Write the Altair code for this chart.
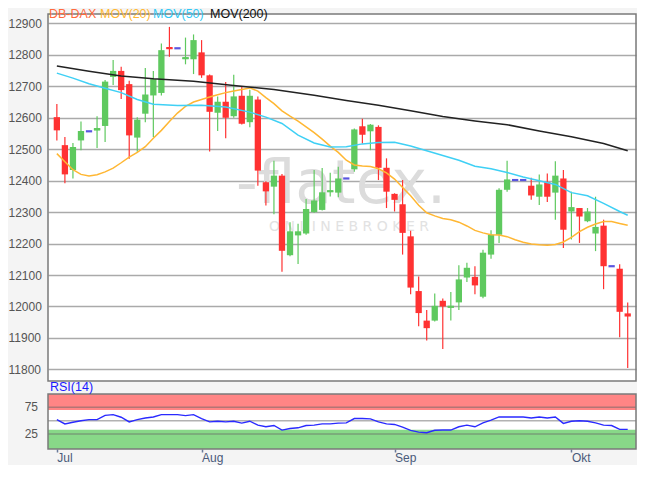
import altair as alt
import pandas as pd

# ---------------- data ----------------
idx = list(range(72))
opens = [12602, 12513, 12434, 12528, 12557, 12560, 12574, 12730, 12749, 12707,
         12537, 12613, 12671, 12679, 12823, 12821, 12787, 12786, 12808, 12735,
         12616, 12651, 12605, 12670, 12586, 12658, 12395, 12381, 12416, 12163,
         12226, 12232, 12300, 12307, 12365, 12362, 12407, 12436, 12573, 12557,
         12571, 12441, 12358, 12325, 12223, 12049, 11955, 11955, 12018, 11997,
         12013, 12092, 12094, 12031, 12165, 12228, 12371, 12402, 12402, 12384,
         12349, 12395, 12362, 12407, 12302, 12313, 12271, 12232, 12257, 12128,
         12120, 11978]
highs = [12644, 12539, 12520, 12588, 12557, 12605, 12720, 12784, 12762, 12718,
         12602, 12758, 12749, 12836, 12889, 12821, 12855, 12865, 12847, 12738,
         12668, 12714, 12737, 12700, 12689, 12668, 12398, 12463, 12421, 12268,
         12263, 12342, 12434, 12440, 12425, 12444, 12407, 12566, 12597, 12580,
         12576, 12471, 12360, 12402, 12241, 12095, 11989, 12041, 12025, 12046,
         12131, 12139, 12128, 12180, 12242, 12376, 12463, 12402, 12402, 12409,
         12420, 12423, 12462, 12434, 12365, 12313, 12313, 12349, 12276, 12128,
         12134, 12013]
lows = [12528, 12392, 12407, 12497, 12557, 12504, 12523, 12704, 12660, 12470,
        12492, 12586, 12539, 12671, 12794, 12821, 12770, 12739, 12727, 12493,
        12558, 12535, 12600, 12579, 12570, 12384, 12321, 12293, 12110, 12160,
        12135, 12228, 12298, 12305, 12350, 12347, 12407, 12428, 12518, 12497,
        12402, 12313, 12302, 12165, 12039, 11937, 11892, 11952, 11865, 11955,
        11989, 12078, 12039, 12026, 12152, 12202, 12365, 12402, 12402, 12339,
        12323, 12332, 12276, 12186, 12213, 12202, 12268, 12176, 12055, 12128,
        11902, 11804]
closes = [12560, 12420, 12507, 12558, 12557, 12567, 12715, 12749, 12688, 12544,
          12594, 12674, 12723, 12815, 12820, 12821, 12792, 12847, 12735, 12619,
          12651, 12600, 12668, 12581, 12670, 12432, 12366, 12416, 12177, 12239,
          12239, 12310, 12337, 12363, 12368, 12407, 12407, 12563, 12546, 12578,
          12441, 12365, 12339, 12234, 12060, 11979, 11931, 12002, 12000, 12001,
          12086, 12123, 12067, 12171, 12228, 12371, 12404, 12402, 12402, 12353,
          12388, 12349, 12416, 12244, 12316, 12286, 12302, 12253, 12128, 12128,
          11983, 11968]

ma20 = [12486, 12460, 12435, 12420, 12415, 12419, 12428, 12440, 12457, 12475,
        12490, 12508, 12535, 12560, 12588, 12615, 12636, 12650, 12658, 12666,
        12673, 12680, 12685, 12690, 12695, 12685, 12664, 12645, 12622, 12605,
        12589, 12571, 12553, 12532, 12510, 12490, 12465, 12450, 12447, 12445,
        12438, 12425, 12405, 12378, 12352, 12322, 12298, 12288, 12280, 12276,
        12268, 12256, 12242, 12234, 12228, 12227, 12222, 12212, 12204, 12199,
        12196, 12195, 12197, 12205, 12220, 12238, 12252, 12262, 12270, 12270,
        12264, 12258]

ma50_idx = [0, 2, 4, 6, 8, 10, 12, 15, 18, 21, 24, 26, 28, 30, 32, 34, 36, 38,
            40, 42, 44, 46, 48, 50, 52, 54, 56, 58, 60, 62, 64, 66, 68, 70, 71]
ma50 = [12742, 12726, 12708, 12694, 12680, 12658, 12643, 12639, 12640, 12634,
        12618, 12602, 12582, 12545, 12520, 12507, 12508, 12517, 12521, 12522,
        12510, 12495, 12480, 12465, 12446, 12438, 12426, 12412, 12400, 12388,
        12362, 12352, 12328, 12302, 12290]

ma200_idx = [0, 4, 8, 12, 17, 22, 27, 32, 36, 40, 44, 48, 52, 56, 60, 64, 68, 71]
ma200 = [12765, 12748, 12733, 12724, 12716, 12703, 12690, 12672, 12655, 12640,
         12622, 12604, 12590, 12578, 12558, 12540, 12518, 12495]

rsi = [52.2, 44, 47, 50, 52, 52, 60, 61.4, 56.5, 47.8, 52, 55, 57, 61.4, 61.4,
       61.4, 59.6, 61.4, 54, 47.8, 49, 47.8, 49, 45.4, 49, 41.7, 38.6, 41, 32.4,
       35.5, 36.7, 41, 41.7, 44, 44, 45.4, 46, 54, 54, 53.5, 47.8, 44, 43, 38,
       32, 28.7, 27.4, 32, 32.5, 32.5, 38.6, 41.7, 38.6, 46, 51, 57, 57, 57, 57,
       55, 57, 55, 57, 45, 49, 50, 49, 46, 41.7, 41, 33.7, 33.7]

month_labels = ["Jul", "Aug", "Sep", "Okt"]
month_pos = [0, 18, 42, 64]
price_ticks = list(range(11800, 13000, 100))
rsi_grid = [25, 50, 75]
rsi_label_ticks = [25, 75]
rsi_over = [70, 100]
rsi_under = [-3, 33]

legend_texts = ["DB-DAX", "MOV(20)", "MOV(50)", "MOV(200)"]

# ---------------- styling / layout ----------------
GREEN = "#5fc95f"
RED = "#ff3232"
FLAT = "#5a55e0"
C20 = "#ffb733"
C50 = "#3fd0f5"
C200 = "#222222"
FONT = "Liberation Sans"
BG = "#f4f4f4"
BORDER = "#7a7a7a"

PADL, PADR, PADB = 40, 1, 16
W = 588
MT, MB = 6, 373        # main panel top/bottom (view px)
RT, RB = 386, 441      # RSI panel top/bottom (view px)
VH = RB

xs = alt.Scale(domain=[-0.48, 71.41], nice=False, zero=False)
ys = alt.Scale(domain=[11763, 12930], range=[MB, MT], nice=False, zero=False)
rs = alt.Scale(domain=[-3, 100], range=[RB, RT], nice=False, zero=False)

xlabel_expr = " : ".join(
    f"datum.value == {p} ? '{t}'" for p, t in zip(month_pos, month_labels)) + " : ''"
xaxis = alt.Axis(values=month_pos, labelExpr=xlabel_expr, tickSize=3, tickWidth=1.5,
                 tickColor="#6a7a9a", labelAlign="left", labelBaseline="top",
                 labelPadding=0, labelColor="#4a5a7a", labelFontSize=12,
                 labelFont=FONT, domain=False, grid=False, title=None,
                 labelFlush=False, labelOverlap=False)
yaxis = alt.Axis(values=price_ticks, format="d", grid=True, gridColor="#aaaaaa",
                 gridWidth=1.5, ticks=False, tickSize=0, domain=False,
                 labelAlign="left", labelPadding=40, labelColor="#555555",
                 labelFontSize=12, labelFont=FONT, title=None)

X = alt.X("i:Q", scale=xs, axis=xaxis)


def Y(field):
    return alt.Y(field, scale=ys, axis=yaxis)


def label(text, px, py, col, size=12.5, align="left", baseline="alphabetic",
          font=FONT):
    return alt.Chart(pd.DataFrame({"t": [text]})).mark_text(
        align=align, baseline=baseline, fontSize=size, color=col, font=font
    ).encode(x=alt.value(px), y=alt.value(py), text="t:N")


def box(y0, y1, **kw):
    return alt.Chart(pd.DataFrame({"k": [0]})).mark_rect(**kw).encode(
        x=alt.value(0), x2=alt.value(W), y=alt.value(y0), y2=alt.value(y1))


# ---------------- price panel ----------------
df = pd.DataFrame({"i": idx, "o": opens, "h": highs, "l": lows, "c": closes})
df["dir"] = ["flat" if h == l else ("up" if c >= o else "down")
             for o, h, l, c in zip(opens, highs, lows, closes)]
color = alt.Color("dir:N", scale=alt.Scale(domain=["up", "down", "flat"],
                                           range=[GREEN, RED, FLAT]), legend=None)
base = alt.Chart(df)

wicks = base.transform_filter("datum.dir != 'flat'").mark_rule(strokeWidth=1.2).encode(
    x=X, y=Y("l:Q"), y2="h:Q", color=color)
bodies = base.transform_filter("datum.dir != 'flat'").mark_bar(size=6.3).encode(
    x=X, y=Y("o:Q"), y2="c:Q", color=color)
small = (base.transform_filter("abs(datum.o - datum.c) < 8")
         .transform_calculate(xa="datum.i - 0.39", xb="datum.i + 0.39",
                              m="(datum.o + datum.c) / 2")
         .mark_rule(strokeWidth=2.2)
         .encode(x=alt.X("xa:Q", scale=xs, axis=xaxis), x2="xb:Q", y=Y("m:Q"),
                 color=color))


def ma_line(ix, vals, col):
    d = pd.DataFrame({"i": ix, "v": vals})
    return alt.Chart(d).mark_line(color=col, strokeWidth=1.5).encode(x=X, y=Y("v:Q"))


watermark = alt.layer(
    label("-flatex.", 293, 195, "#dcdcdc", size=60, align="center",
          font="DejaVu Sans"),
    label("O N L I N E   B R O K E R", 301, 223, "#e2e2e2", size=14,
          align="center", font="DejaVu Sans"),
)

price_group = alt.layer(
    watermark, wicks, bodies, small,
    ma_line(list(range(72)), ma20, C20),
    ma_line(ma50_idx, ma50, C50),
    ma_line(ma200_idx, ma200, C200),
)

# ---------------- RSI panel ----------------
def RY(field):
    return alt.Y(field, scale=rs, axis=None)


over = alt.Chart(pd.DataFrame({"lo": [rsi_over[0]], "hi": [rsi_over[1]]})).mark_rect(
    color="#ff8585").encode(x=alt.value(0), x2=alt.value(W), y=RY("lo:Q"), y2="hi:Q")
under = alt.Chart(pd.DataFrame({"lo": [rsi_under[0]], "hi": [rsi_under[1]]})).mark_rect(
    color="#88d888").encode(x=alt.value(0), x2=alt.value(W), y=RY("lo:Q"), y2="hi:Q")
rgrid = alt.Chart(pd.DataFrame({"v": rsi_grid})).mark_rule(
    color="#666666", opacity=0.5, strokeWidth=1.5).encode(
    x=alt.value(0), x2=alt.value(W), y=RY("v:Q"))
rlabels = alt.Chart(pd.DataFrame({"v": rsi_label_ticks})).mark_text(
    align="right", baseline="middle", fontSize=12, font=FONT, color="#555555").encode(
    x=alt.value(-10), y=RY("v:Q"), text=alt.Text("v:Q", format="d"))
rsi_line = alt.Chart(pd.DataFrame({"i": idx, "r": rsi})).mark_line(
    color="#2a2aff", strokeWidth=1.4).encode(x=X, y=RY("r:Q"))

rsi_group = alt.layer(over, under, rgrid, rsi_line, rlabels)

# ---------------- frame, header ----------------
strips = alt.layer(box(0, MT, color=BG), box(MB, RT, color=BG))
borders = alt.layer(
    box(MT, MB, fill=None, stroke=BORDER, strokeWidth=1.5),
    box(RT, RB, fill=None, stroke=BORDER, strokeWidth=1.5),
)
header = alt.layer(
    label(legend_texts[0], 1, 10, "#ff6a3d"),
    label(legend_texts[1], 52, 10, C20),
    label(legend_texts[2], 105, 10, "#33c8f5"),
    label(legend_texts[3], 162, 10, "#111111"),
    label("RSI(14)", 2, RT - 3, "#1a1aff"),
)

chart = alt.layer(strips, rsi_group, price_group, borders, header).resolve_scale(
    y="independent"
).properties(
    width=W, height=VH,
    autosize=alt.AutoSizeParams(type="none"),
    padding={"left": PADL, "right": PADR, "top": 0, "bottom": PADB},
    background=BG,
).configure_view(stroke=None, fill="white")

chart.save("out.html", embed_options={"renderer": "svg", "actions": False})
